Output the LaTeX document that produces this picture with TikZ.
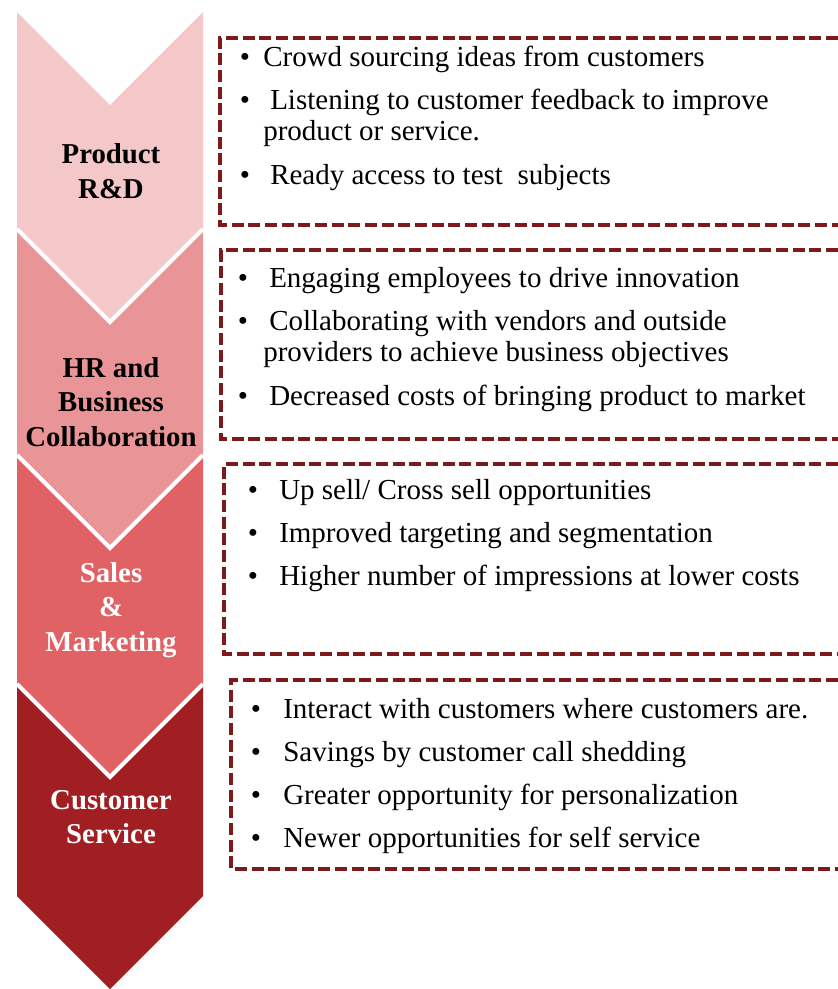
\documentclass[tikz,border=0pt]{standalone}
\usepackage{fontspec}
\setmainfont{Liberation Serif}

\definecolor{pinkA}{HTML}{F4C7C8}
\definecolor{pinkB}{HTML}{E99597}
\definecolor{redC}{HTML}{E06264}
\definecolor{redD}{HTML}{A11F22}
\definecolor{boxred}{HTML}{7E1A1B}

\tikzset{
  stage/.style={align=center, inner sep=0pt, font=\bfseries\fontsize{21.6}{26}\selectfont},
  itemtext/.style={anchor=base west, inner sep=0pt, font=\fontsize{21.75}{26}\selectfont},
  bulletdot/.style={anchor=base, inner sep=0pt, font=\fontsize{21.75}{26}\selectfont},
  dashbox/.style={draw=boxred, line width=2.8pt, dash pattern=on 9pt off 3.5pt},
  notchline/.style={draw=white, line width=3pt}
}

\begin{document}
\begin{tikzpicture}[x=0.75pt,y=-0.75pt]
   \useasboundingbox (0,0) rectangle (838,989);

   % chevrons
   \fill[pinkA] (17,12) -- (110,105) -- (203,12) -- (203,229) -- (110,322) -- (17,229) -- cycle;
   \fill[pinkB] (17,229) -- (110,322) -- (203,229) -- (203,455) -- (110,548) -- (17,455) -- cycle;
   \draw[notchline] (17,229) -- (110,322) -- (203,229);
   \fill[redC] (17,455) -- (110,548) -- (203,455) -- (203,684) -- (110,777) -- (17,684) -- cycle;
   \draw[notchline] (17,455) -- (110,548) -- (203,455);
   \fill[redD] (17,684) -- (110,777) -- (203,684) -- (203,896) -- (110,989) -- (17,896) -- cycle;
   \draw[notchline] (17,684) -- (110,777) -- (203,684);

   \node[stage] (rnd) at (111,171) {Product\\R\&D};
   \node[stage] (hr) at (111,402) {HR and\\Business\\Collaboration};
   \node[stage, text=white] (sales) at (111,610) {Sales\\\&\\Marketing};
   \node[stage, text=white] (service) at (111,817) {Customer\\Service};

   % dashed boxes
   \draw[dashbox] (838,38) -- (220,38) -- (220,225) -- (838,225);
   \draw[dashbox] (838,250) -- (221,250) -- (221,439) -- (838,439);
   \draw[dashbox] (838,464) -- (224,464) -- (224,654) -- (838,654);
   \draw[dashbox] (838,680) -- (231,680) -- (231,869) -- (838,869);

   % product r&d
   \node[bulletdot] (d1a) at (245,66) {\textbullet};
   \node[itemtext] (t1a) at (263,66) {Crowd sourcing ideas from customers};
   \node[bulletdot] (d1b) at (245,109) {\textbullet};
   \node[itemtext] (t1b) at (270,109) {Listening to customer feedback to improve};
   \node[itemtext] (t1c) at (263,140) {product or service.};
   \node[bulletdot] (d1d) at (245,184) {\textbullet};
   \node[itemtext] (t1d) at (270,184) {Ready access to test\ \ subjects};

   % hr and business
   \node[bulletdot] (d2a) at (243,287) {\textbullet};
   \node[itemtext] (t2a) at (269,287) {Engaging employees to drive innovation};
   \node[bulletdot] (d2b) at (243,330) {\textbullet};
   \node[itemtext] (t2b) at (269,330) {Collaborating with vendors and outside};
   \node[itemtext] (t2c) at (263,361) {providers to achieve business objectives};
   \node[bulletdot] (d2d) at (243,405) {\textbullet};
   \node[itemtext] (t2d) at (269,405) {Decreased costs of bringing product to market};

   % sales and marketing
   \node[bulletdot] (d3a) at (253,499) {\textbullet};
   \node[itemtext] (t3a) at (279,499) {Up sell/ Cross sell opportunities};
   \node[bulletdot] (d3b) at (253,542) {\textbullet};
   \node[itemtext] (t3b) at (279,542) {Improved targeting and segmentation};
   \node[bulletdot] (d3c) at (253,585) {\textbullet};
   \node[itemtext] (t3c) at (279,585) {Higher number of impressions at lower costs};

   % customer service
   \node[bulletdot] (d4a) at (256,718) {\textbullet};
   \node[itemtext] (t4a) at (283,718) {Interact with customers where customers are.};
   \node[bulletdot] (d4b) at (256,761) {\textbullet};
   \node[itemtext] (t4b) at (283,761) {Savings by customer call shedding};
   \node[bulletdot] (d4c) at (256,804) {\textbullet};
   \node[itemtext] (t4c) at (283,804) {Greater opportunity for personalization};
   \node[bulletdot] (d4d) at (256,847) {\textbullet};
   \node[itemtext] (t4d) at (283,847) {Newer opportunities for self service};
\end{tikzpicture}
\end{document}
